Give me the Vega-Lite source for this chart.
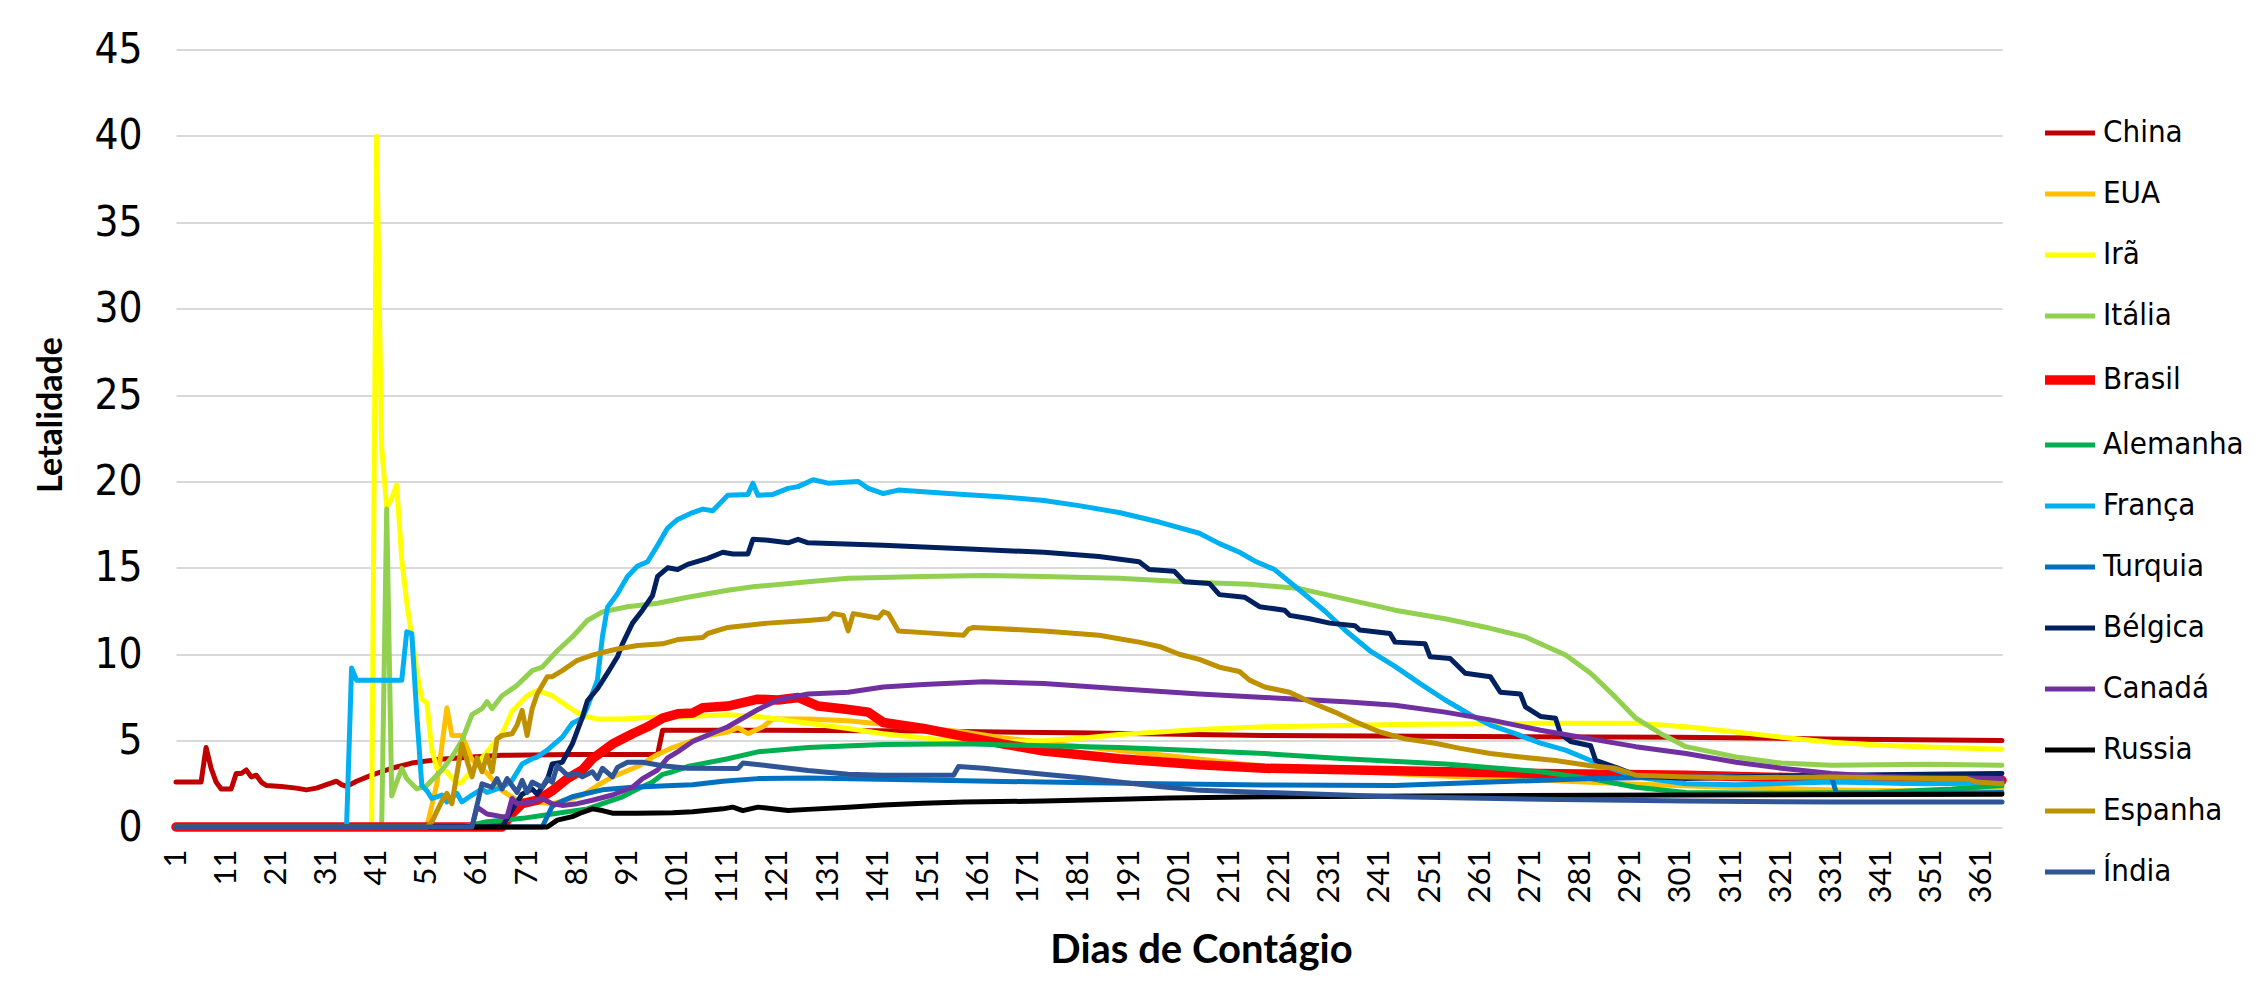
{
  "$schema": "https://vega.github.io/schema/vega-lite/v6.json",
  "width": 1826,
  "height": 777.5,
  "autosize": {"type": "none"},
  "padding": {"left": 176, "top": 49.5, "right": 264, "bottom": 167},
  "background": "white",
  "config": {
    "view": {"stroke": null},
    "font": "Lato",
    "axis": {"labelColor": "#000000", "titleColor": "#000000"}
  },
  "data": {"values": [
    {"c":"China","d":1,"v":2.6},{"c":"China","d":6,"v":2.6},{"c":"China","d":7,"v":4.6},{"c":"China","d":8,"v":3.4},{"c":"China","d":9,"v":2.6},{"c":"China","d":10,"v":2.2},{"c":"China","d":12,"v":2.2},{"c":"China","d":13,"v":3.1},{"c":"China","d":14,"v":3.1},{"c":"China","d":15,"v":3.3},{"c":"China","d":16,"v":2.9},{"c":"China","d":17,"v":3.0},{"c":"China","d":18,"v":2.6},{"c":"China","d":19,"v":2.4},{"c":"China","d":22,"v":2.35},{"c":"China","d":25,"v":2.25},{"c":"China","d":27,"v":2.15},{"c":"China","d":29,"v":2.25},{"c":"China","d":31,"v":2.45},{"c":"China","d":33,"v":2.65},{"c":"China","d":34,"v":2.45},{"c":"China","d":35,"v":2.35},{"c":"China","d":37,"v":2.65},{"c":"China","d":40,"v":3.0},{"c":"China","d":44,"v":3.4},{"c":"China","d":48,"v":3.7},{"c":"China","d":53,"v":3.9},{"c":"China","d":60,"v":4.05},{"c":"China","d":66,"v":4.15},{"c":"China","d":80,"v":4.2},{"c":"China","d":97,"v":4.2},{"c":"China","d":98,"v":5.6},{"c":"China","d":120,"v":5.6},{"c":"China","d":150,"v":5.55},{"c":"China","d":180,"v":5.45},{"c":"China","d":218,"v":5.3},{"c":"China","d":250,"v":5.25},{"c":"China","d":300,"v":5.2},{"c":"China","d":330,"v":5.1},{"c":"China","d":365,"v":5.0},
    {"c":"EUA","d":1,"v":0},{"c":"EUA","d":51,"v":0},{"c":"EUA","d":53,"v":2.5},{"c":"EUA","d":55,"v":6.9},{"c":"EUA","d":56,"v":5.3},{"c":"EUA","d":58,"v":5.3},{"c":"EUA","d":60,"v":3.9},{"c":"EUA","d":63,"v":3.1},{"c":"EUA","d":66,"v":2.1},{"c":"EUA","d":69,"v":1.55},{"c":"EUA","d":73,"v":1.45},{"c":"EUA","d":76,"v":1.35},{"c":"EUA","d":80,"v":1.65},{"c":"EUA","d":82,"v":1.85},{"c":"EUA","d":85,"v":2.4},{"c":"EUA","d":88,"v":2.9},{"c":"EUA","d":93,"v":3.5},{"c":"EUA","d":97,"v":4.2},{"c":"EUA","d":100,"v":4.6},{"c":"EUA","d":103,"v":4.9},{"c":"EUA","d":107,"v":5.3},{"c":"EUA","d":111,"v":5.5},{"c":"EUA","d":113,"v":5.75},{"c":"EUA","d":115,"v":5.4},{"c":"EUA","d":118,"v":5.8},{"c":"EUA","d":120,"v":6.25},{"c":"EUA","d":127,"v":6.25},{"c":"EUA","d":135,"v":6.15},{"c":"EUA","d":142,"v":5.95},{"c":"EUA","d":150,"v":5.75},{"c":"EUA","d":158,"v":5.5},{"c":"EUA","d":166,"v":5.15},{"c":"EUA","d":174,"v":4.9},{"c":"EUA","d":180,"v":4.7},{"c":"EUA","d":190,"v":4.4},{"c":"EUA","d":200,"v":4.1},{"c":"EUA","d":215,"v":3.6},{"c":"EUA","d":230,"v":3.3},{"c":"EUA","d":250,"v":3.0},{"c":"EUA","d":270,"v":2.75},{"c":"EUA","d":290,"v":2.5},{"c":"EUA","d":310,"v":2.3},{"c":"EUA","d":330,"v":2.15},{"c":"EUA","d":345,"v":2.1},{"c":"EUA","d":365,"v":2.2},
    {"c":"Irã","d":1,"v":0},{"c":"Irã","d":40,"v":0},{"c":"Irã","d":41,"v":40},{"c":"Irã","d":42,"v":22},{"c":"Irã","d":43,"v":18.5},{"c":"Irã","d":44,"v":19},{"c":"Irã","d":45,"v":19.8},{"c":"Irã","d":46,"v":15.5},{"c":"Irã","d":47,"v":13},{"c":"Irã","d":48,"v":11},{"c":"Irã","d":49,"v":9},{"c":"Irã","d":50,"v":7.4},{"c":"Irã","d":51,"v":7.2},{"c":"Irã","d":52,"v":4.5},{"c":"Irã","d":53,"v":3.4},{"c":"Irã","d":55,"v":3.2},{"c":"Irã","d":57,"v":2.5},{"c":"Irã","d":58,"v":2.6},{"c":"Irã","d":60,"v":3.3},{"c":"Irã","d":62,"v":4.0},{"c":"Irã","d":66,"v":5.4},{"c":"Irã","d":68,"v":6.7},{"c":"Irã","d":71,"v":7.6},{"c":"Irã","d":73,"v":7.9},{"c":"Irã","d":76,"v":7.6},{"c":"Irã","d":79,"v":7.0},{"c":"Irã","d":82,"v":6.45},{"c":"Irã","d":85,"v":6.25},{"c":"Irã","d":90,"v":6.25},{"c":"Irã","d":96,"v":6.35},{"c":"Irã","d":103,"v":6.4},{"c":"Irã","d":111,"v":6.5},{"c":"Irã","d":117,"v":6.4},{"c":"Irã","d":127,"v":6.0},{"c":"Irã","d":135,"v":5.7},{"c":"Irã","d":142,"v":5.4},{"c":"Irã","d":150,"v":5.15},{"c":"Irã","d":158,"v":4.95},{"c":"Irã","d":166,"v":4.93},{"c":"Irã","d":174,"v":5.0},{"c":"Irã","d":182,"v":5.15},{"c":"Irã","d":189,"v":5.35},{"c":"Irã","d":197,"v":5.5},{"c":"Irã","d":205,"v":5.65},{"c":"Irã","d":218,"v":5.8},{"c":"Irã","d":244,"v":5.93},{"c":"Irã","d":273,"v":6.0},{"c":"Irã","d":292,"v":6.0},{"c":"Irã","d":302,"v":5.8},{"c":"Irã","d":312,"v":5.5},{"c":"Irã","d":321,"v":5.2},{"c":"Irã","d":331,"v":4.9},{"c":"Irã","d":341,"v":4.73},{"c":"Irã","d":350,"v":4.63},{"c":"Irã","d":365,"v":4.5},
    {"c":"Itália","d":1,"v":0},{"c":"Itália","d":42,"v":0},{"c":"Itália","d":43,"v":18.4},{"c":"Itália","d":44,"v":1.8},{"c":"Itália","d":46,"v":3.4},{"c":"Itália","d":47,"v":2.8},{"c":"Itália","d":49,"v":2.2},{"c":"Itália","d":51,"v":2.4},{"c":"Itália","d":54,"v":3.3},{"c":"Itália","d":56,"v":4.05},{"c":"Itália","d":58,"v":5.0},{"c":"Itália","d":60,"v":6.5},{"c":"Itália","d":62,"v":6.85},{"c":"Itália","d":63,"v":7.25},{"c":"Itália","d":64,"v":6.85},{"c":"Itália","d":66,"v":7.6},{"c":"Itália","d":69,"v":8.2},{"c":"Itália","d":72,"v":9.05},{"c":"Itália","d":74,"v":9.25},{"c":"Itália","d":77,"v":10.2},{"c":"Itália","d":80,"v":11.0},{"c":"Itália","d":83,"v":11.95},{"c":"Itália","d":86,"v":12.45},{"c":"Itália","d":91,"v":12.75},{"c":"Itália","d":97,"v":12.95},{"c":"Itália","d":103,"v":13.3},{"c":"Itália","d":111,"v":13.7},{"c":"Itália","d":116,"v":13.9},{"c":"Itália","d":127,"v":14.2},{"c":"Itália","d":135,"v":14.4},{"c":"Itália","d":150,"v":14.5},{"c":"Itália","d":162,"v":14.55},{"c":"Itália","d":174,"v":14.5},{"c":"Itália","d":189,"v":14.4},{"c":"Itália","d":205,"v":14.15},{"c":"Itália","d":215,"v":14.05},{"c":"Itália","d":225,"v":13.8},{"c":"Itália","d":234,"v":13.2},{"c":"Itália","d":244,"v":12.55},{"c":"Itália","d":254,"v":12.05},{"c":"Itália","d":263,"v":11.5},{"c":"Itália","d":270,"v":11.0},{"c":"Itália","d":278,"v":9.95},{"c":"Itália","d":283,"v":8.9},{"c":"Itália","d":288,"v":7.5},{"c":"Itália","d":292,"v":6.3},{"c":"Itália","d":297,"v":5.4},{"c":"Itália","d":302,"v":4.65},{"c":"Itália","d":312,"v":4.05},{"c":"Itália","d":321,"v":3.7},{"c":"Itália","d":331,"v":3.57},{"c":"Itália","d":350,"v":3.63},{"c":"Itália","d":365,"v":3.57},
    {"c":"Brasil","d":1,"v":0},{"c":"Brasil","d":66,"v":0},{"c":"Brasil","d":68,"v":0.8},{"c":"Brasil","d":70,"v":1.35},{"c":"Brasil","d":73,"v":1.55},{"c":"Brasil","d":76,"v":2.1},{"c":"Brasil","d":79,"v":2.8},{"c":"Brasil","d":82,"v":3.3},{"c":"Brasil","d":84,"v":3.95},{"c":"Brasil","d":88,"v":4.8},{"c":"Brasil","d":92,"v":5.4},{"c":"Brasil","d":95,"v":5.8},{"c":"Brasil","d":98,"v":6.3},{"c":"Brasil","d":101,"v":6.55},{"c":"Brasil","d":104,"v":6.6},{"c":"Brasil","d":106,"v":6.9},{"c":"Brasil","d":111,"v":7.0},{"c":"Brasil","d":117,"v":7.4},{"c":"Brasil","d":121,"v":7.35},{"c":"Brasil","d":125,"v":7.5},{"c":"Brasil","d":129,"v":7.0},{"c":"Brasil","d":135,"v":6.8},{"c":"Brasil","d":139,"v":6.65},{"c":"Brasil","d":142,"v":6.05},{"c":"Brasil","d":150,"v":5.7},{"c":"Brasil","d":158,"v":5.25},{"c":"Brasil","d":166,"v":4.8},{"c":"Brasil","d":174,"v":4.4},{"c":"Brasil","d":189,"v":3.95},{"c":"Brasil","d":205,"v":3.6},{"c":"Brasil","d":218,"v":3.4},{"c":"Brasil","d":244,"v":3.25},{"c":"Brasil","d":273,"v":3.1},{"c":"Brasil","d":302,"v":3.0},{"c":"Brasil","d":331,"v":2.8},{"c":"Brasil","d":350,"v":2.65},{"c":"Brasil","d":365,"v":2.7},
    {"c":"Alemanha","d":1,"v":0},{"c":"Alemanha","d":58,"v":0},{"c":"Alemanha","d":63,"v":0.3},{"c":"Alemanha","d":70,"v":0.5},{"c":"Alemanha","d":76,"v":0.75},{"c":"Alemanha","d":83,"v":1.05},{"c":"Alemanha","d":86,"v":1.35},{"c":"Alemanha","d":90,"v":1.75},{"c":"Alemanha","d":93,"v":2.2},{"c":"Alemanha","d":96,"v":2.6},{"c":"Alemanha","d":98,"v":3.05},{"c":"Alemanha","d":100,"v":3.2},{"c":"Alemanha","d":103,"v":3.5},{"c":"Alemanha","d":111,"v":3.95},{"c":"Alemanha","d":117,"v":4.35},{"c":"Alemanha","d":127,"v":4.6},{"c":"Alemanha","d":142,"v":4.78},{"c":"Alemanha","d":158,"v":4.82},{"c":"Alemanha","d":174,"v":4.7},{"c":"Alemanha","d":189,"v":4.6},{"c":"Alemanha","d":205,"v":4.42},{"c":"Alemanha","d":218,"v":4.25},{"c":"Alemanha","d":234,"v":3.95},{"c":"Alemanha","d":254,"v":3.65},{"c":"Alemanha","d":273,"v":3.2},{"c":"Alemanha","d":283,"v":2.8},{"c":"Alemanha","d":292,"v":2.3},{"c":"Alemanha","d":302,"v":2.0},{"c":"Alemanha","d":320,"v":1.95},{"c":"Alemanha","d":340,"v":2.0},{"c":"Alemanha","d":355,"v":2.2},{"c":"Alemanha","d":365,"v":2.4},
    {"c":"França","d":1,"v":0},{"c":"França","d":35,"v":0},{"c":"França","d":36,"v":9.2},{"c":"França","d":37,"v":8.5},{"c":"França","d":46,"v":8.5},{"c":"França","d":47,"v":11.3},{"c":"França","d":48,"v":11.2},{"c":"França","d":49,"v":6.5},{"c":"França","d":50,"v":2.4},{"c":"França","d":51,"v":2.1},{"c":"França","d":52,"v":1.65},{"c":"França","d":54,"v":1.85},{"c":"França","d":55,"v":1.45},{"c":"França","d":57,"v":1.95},{"c":"França","d":58,"v":1.45},{"c":"França","d":60,"v":1.85},{"c":"França","d":62,"v":2.2},{"c":"França","d":63,"v":2.0},{"c":"França","d":66,"v":2.3},{"c":"França","d":68,"v":2.7},{"c":"França","d":70,"v":3.65},{"c":"França","d":72,"v":3.95},{"c":"França","d":73,"v":4.05},{"c":"França","d":75,"v":4.45},{"c":"França","d":78,"v":5.2},{"c":"França","d":80,"v":6.0},{"c":"França","d":82,"v":6.3},{"c":"França","d":83,"v":6.95},{"c":"França","d":85,"v":8.5},{"c":"França","d":86,"v":11.0},{"c":"França","d":87,"v":12.7},{"c":"França","d":89,"v":13.5},{"c":"França","d":91,"v":14.5},{"c":"França","d":93,"v":15.1},{"c":"França","d":95,"v":15.35},{"c":"França","d":97,"v":16.3},{"c":"França","d":99,"v":17.3},{"c":"França","d":101,"v":17.8},{"c":"França","d":104,"v":18.2},{"c":"França","d":106,"v":18.4},{"c":"França","d":108,"v":18.3},{"c":"França","d":111,"v":19.2},{"c":"França","d":115,"v":19.25},{"c":"França","d":116,"v":19.9},{"c":"França","d":117,"v":19.2},{"c":"França","d":120,"v":19.25},{"c":"França","d":123,"v":19.6},{"c":"França","d":125,"v":19.7},{"c":"França","d":128,"v":20.1},{"c":"França","d":131,"v":19.9},{"c":"França","d":137,"v":20.0},{"c":"França","d":139,"v":19.6},{"c":"França","d":142,"v":19.3},{"c":"França","d":145,"v":19.5},{"c":"França","d":150,"v":19.4},{"c":"França","d":158,"v":19.25},{"c":"França","d":166,"v":19.1},{"c":"França","d":174,"v":18.9},{"c":"França","d":181,"v":18.6},{"c":"França","d":189,"v":18.2},{"c":"França","d":197,"v":17.65},{"c":"França","d":205,"v":17.0},{"c":"França","d":209,"v":16.4},{"c":"França","d":213,"v":15.9},{"c":"França","d":216,"v":15.4},{"c":"França","d":220,"v":14.9},{"c":"França","d":225,"v":13.7},{"c":"França","d":230,"v":12.5},{"c":"França","d":234,"v":11.4},{"c":"França","d":239,"v":10.2},{"c":"França","d":244,"v":9.3},{"c":"França","d":249,"v":8.3},{"c":"França","d":254,"v":7.35},{"c":"França","d":259,"v":6.5},{"c":"França","d":263,"v":5.9},{"c":"França","d":268,"v":5.4},{"c":"França","d":273,"v":4.85},{"c":"França","d":278,"v":4.45},{"c":"França","d":283,"v":3.85},{"c":"França","d":288,"v":3.3},{"c":"França","d":292,"v":2.9},{"c":"França","d":302,"v":2.5},{"c":"França","d":312,"v":2.45},{"c":"França","d":331,"v":2.6},{"c":"França","d":350,"v":2.5},{"c":"França","d":365,"v":2.6},
    {"c":"Turquia","d":1,"v":0},{"c":"Turquia","d":74,"v":0},{"c":"Turquia","d":76,"v":1.2},{"c":"Turquia","d":78,"v":1.5},{"c":"Turquia","d":80,"v":1.75},{"c":"Turquia","d":83,"v":1.95},{"c":"Turquia","d":86,"v":2.15},{"c":"Turquia","d":92,"v":2.3},{"c":"Turquia","d":100,"v":2.4},{"c":"Turquia","d":104,"v":2.45},{"c":"Turquia","d":110,"v":2.65},{"c":"Turquia","d":117,"v":2.8},{"c":"Turquia","d":127,"v":2.83},{"c":"Turquia","d":150,"v":2.72},{"c":"Turquia","d":174,"v":2.6},{"c":"Turquia","d":197,"v":2.5},{"c":"Turquia","d":218,"v":2.43},{"c":"Turquia","d":244,"v":2.4},{"c":"Turquia","d":263,"v":2.6},{"c":"Turquia","d":283,"v":2.8},{"c":"Turquia","d":302,"v":2.9},{"c":"Turquia","d":321,"v":2.93},{"c":"Turquia","d":331,"v":2.9},{"c":"Turquia","d":332,"v":1.95},{"c":"Turquia","d":350,"v":1.95},{"c":"Turquia","d":365,"v":2.0},
    {"c":"Bélgica","d":1,"v":0},{"c":"Bélgica","d":66,"v":0},{"c":"Bélgica","d":68,"v":1.0},{"c":"Bélgica","d":70,"v":1.9},{"c":"Bélgica","d":72,"v":2.2},{"c":"Bélgica","d":73,"v":1.9},{"c":"Bélgica","d":75,"v":2.7},{"c":"Bélgica","d":76,"v":3.65},{"c":"Bélgica","d":78,"v":3.75},{"c":"Bélgica","d":80,"v":4.8},{"c":"Bélgica","d":82,"v":6.35},{"c":"Bélgica","d":83,"v":7.3},{"c":"Bélgica","d":85,"v":8.0},{"c":"Bélgica","d":87,"v":8.9},{"c":"Bélgica","d":89,"v":9.85},{"c":"Bélgica","d":90,"v":10.6},{"c":"Bélgica","d":92,"v":11.8},{"c":"Bélgica","d":94,"v":12.55},{"c":"Bélgica","d":96,"v":13.4},{"c":"Bélgica","d":97,"v":14.5},{"c":"Bélgica","d":99,"v":15.0},{"c":"Bélgica","d":101,"v":14.9},{"c":"Bélgica","d":103,"v":15.2},{"c":"Bélgica","d":107,"v":15.55},{"c":"Bélgica","d":110,"v":15.9},{"c":"Bélgica","d":112,"v":15.8},{"c":"Bélgica","d":115,"v":15.8},{"c":"Bélgica","d":116,"v":16.65},{"c":"Bélgica","d":119,"v":16.6},{"c":"Bélgica","d":123,"v":16.45},{"c":"Bélgica","d":125,"v":16.65},{"c":"Bélgica","d":127,"v":16.45},{"c":"Bélgica","d":142,"v":16.3},{"c":"Bélgica","d":158,"v":16.1},{"c":"Bélgica","d":174,"v":15.9},{"c":"Bélgica","d":185,"v":15.65},{"c":"Bélgica","d":193,"v":15.35},{"c":"Bélgica","d":195,"v":14.9},{"c":"Bélgica","d":200,"v":14.8},{"c":"Bélgica","d":202,"v":14.2},{"c":"Bélgica","d":207,"v":14.1},{"c":"Bélgica","d":209,"v":13.45},{"c":"Bélgica","d":214,"v":13.3},{"c":"Bélgica","d":217,"v":12.75},{"c":"Bélgica","d":222,"v":12.55},{"c":"Bélgica","d":223,"v":12.25},{"c":"Bélgica","d":227,"v":12.05},{"c":"Bélgica","d":231,"v":11.8},{"c":"Bélgica","d":236,"v":11.65},{"c":"Bélgica","d":237,"v":11.4},{"c":"Bélgica","d":243,"v":11.2},{"c":"Bélgica","d":244,"v":10.7},{"c":"Bélgica","d":250,"v":10.6},{"c":"Bélgica","d":251,"v":9.85},{"c":"Bélgica","d":255,"v":9.75},{"c":"Bélgica","d":258,"v":8.9},{"c":"Bélgica","d":263,"v":8.7},{"c":"Bélgica","d":265,"v":7.8},{"c":"Bélgica","d":269,"v":7.7},{"c":"Bélgica","d":270,"v":6.95},{"c":"Bélgica","d":273,"v":6.4},{"c":"Bélgica","d":276,"v":6.3},{"c":"Bélgica","d":277,"v":5.4},{"c":"Bélgica","d":279,"v":4.95},{"c":"Bélgica","d":283,"v":4.7},{"c":"Bélgica","d":284,"v":3.85},{"c":"Bélgica","d":288,"v":3.45},{"c":"Bélgica","d":292,"v":3.0},{"c":"Bélgica","d":302,"v":2.8},{"c":"Bélgica","d":312,"v":2.9},{"c":"Bélgica","d":331,"v":3.0},{"c":"Bélgica","d":350,"v":3.05},{"c":"Bélgica","d":365,"v":3.1},
    {"c":"Canadá","d":1,"v":0},{"c":"Canadá","d":60,"v":0},{"c":"Canadá","d":61,"v":1.15},{"c":"Canadá","d":63,"v":0.75},{"c":"Canadá","d":66,"v":0.6},{"c":"Canadá","d":67,"v":0.6},{"c":"Canadá","d":68,"v":1.65},{"c":"Canadá","d":69,"v":1.35},{"c":"Canadá","d":72,"v":1.45},{"c":"Canadá","d":74,"v":1.65},{"c":"Canadá","d":76,"v":1.35},{"c":"Canadá","d":78,"v":1.25},{"c":"Canadá","d":81,"v":1.35},{"c":"Canadá","d":84,"v":1.55},{"c":"Canadá","d":88,"v":1.85},{"c":"Canadá","d":92,"v":2.3},{"c":"Canadá","d":94,"v":2.8},{"c":"Canadá","d":97,"v":3.3},{"c":"Canadá","d":99,"v":4.0},{"c":"Canadá","d":101,"v":4.35},{"c":"Canadá","d":104,"v":4.95},{"c":"Canadá","d":111,"v":5.8},{"c":"Canadá","d":117,"v":6.8},{"c":"Canadá","d":121,"v":7.35},{"c":"Canadá","d":127,"v":7.7},{"c":"Canadá","d":135,"v":7.8},{"c":"Canadá","d":142,"v":8.1},{"c":"Canadá","d":150,"v":8.25},{"c":"Canadá","d":162,"v":8.4},{"c":"Canadá","d":174,"v":8.3},{"c":"Canadá","d":189,"v":8.0},{"c":"Canadá","d":205,"v":7.7},{"c":"Canadá","d":218,"v":7.5},{"c":"Canadá","d":234,"v":7.25},{"c":"Canadá","d":244,"v":7.05},{"c":"Canadá","d":254,"v":6.65},{"c":"Canadá","d":263,"v":6.2},{"c":"Canadá","d":273,"v":5.6},{"c":"Canadá","d":283,"v":5.1},{"c":"Canadá","d":292,"v":4.65},{"c":"Canadá","d":302,"v":4.25},{"c":"Canadá","d":312,"v":3.75},{"c":"Canadá","d":321,"v":3.4},{"c":"Canadá","d":331,"v":3.1},{"c":"Canadá","d":341,"v":2.93},{"c":"Canadá","d":350,"v":2.86},{"c":"Canadá","d":365,"v":2.8},
    {"c":"Russia","d":1,"v":0},{"c":"Russia","d":75,"v":0},{"c":"Russia","d":77,"v":0.4},{"c":"Russia","d":80,"v":0.6},{"c":"Russia","d":82,"v":0.85},{"c":"Russia","d":84,"v":1.05},{"c":"Russia","d":86,"v":0.95},{"c":"Russia","d":88,"v":0.8},{"c":"Russia","d":93,"v":0.8},{"c":"Russia","d":100,"v":0.82},{"c":"Russia","d":104,"v":0.88},{"c":"Russia","d":110,"v":1.05},{"c":"Russia","d":112,"v":1.15},{"c":"Russia","d":114,"v":0.95},{"c":"Russia","d":117,"v":1.15},{"c":"Russia","d":123,"v":0.95},{"c":"Russia","d":127,"v":1.02},{"c":"Russia","d":135,"v":1.15},{"c":"Russia","d":142,"v":1.28},{"c":"Russia","d":150,"v":1.38},{"c":"Russia","d":158,"v":1.45},{"c":"Russia","d":174,"v":1.5},{"c":"Russia","d":189,"v":1.6},{"c":"Russia","d":199,"v":1.68},{"c":"Russia","d":218,"v":1.75},{"c":"Russia","d":250,"v":1.8},{"c":"Russia","d":300,"v":1.85},{"c":"Russia","d":365,"v":1.9},
    {"c":"Espanha","d":1,"v":0},{"c":"Espanha","d":51,"v":0},{"c":"Espanha","d":52,"v":0.3},{"c":"Espanha","d":53,"v":0.9},{"c":"Espanha","d":54,"v":1.5},{"c":"Espanha","d":55,"v":1.95},{"c":"Espanha","d":56,"v":1.35},{"c":"Espanha","d":58,"v":4.8},{"c":"Espanha","d":60,"v":2.9},{"c":"Espanha","d":61,"v":4.0},{"c":"Espanha","d":62,"v":3.2},{"c":"Espanha","d":63,"v":4.15},{"c":"Espanha","d":64,"v":3.2},{"c":"Espanha","d":65,"v":5.1},{"c":"Espanha","d":66,"v":5.3},{"c":"Espanha","d":68,"v":5.4},{"c":"Espanha","d":69,"v":5.9},{"c":"Espanha","d":70,"v":6.75},{"c":"Espanha","d":71,"v":5.3},{"c":"Espanha","d":72,"v":6.85},{"c":"Espanha","d":73,"v":7.7},{"c":"Espanha","d":75,"v":8.7},{"c":"Espanha","d":76,"v":8.7},{"c":"Espanha","d":78,"v":9.05},{"c":"Espanha","d":81,"v":9.65},{"c":"Espanha","d":84,"v":9.95},{"c":"Espanha","d":86,"v":10.1},{"c":"Espanha","d":89,"v":10.3},{"c":"Espanha","d":93,"v":10.5},{"c":"Espanha","d":98,"v":10.6},{"c":"Espanha","d":101,"v":10.85},{"c":"Espanha","d":106,"v":10.97},{"c":"Espanha","d":107,"v":11.2},{"c":"Espanha","d":111,"v":11.55},{"c":"Espanha","d":119,"v":11.8},{"c":"Espanha","d":127,"v":11.95},{"c":"Espanha","d":131,"v":12.05},{"c":"Espanha","d":132,"v":12.35},{"c":"Espanha","d":134,"v":12.25},{"c":"Espanha","d":135,"v":11.35},{"c":"Espanha","d":136,"v":12.35},{"c":"Espanha","d":141,"v":12.1},{"c":"Espanha","d":142,"v":12.45},{"c":"Espanha","d":143,"v":12.35},{"c":"Espanha","d":145,"v":11.35},{"c":"Espanha","d":150,"v":11.25},{"c":"Espanha","d":158,"v":11.1},{"c":"Espanha","d":159,"v":11.45},{"c":"Espanha","d":160,"v":11.55},{"c":"Espanha","d":174,"v":11.35},{"c":"Espanha","d":185,"v":11.1},{"c":"Espanha","d":189,"v":10.9},{"c":"Espanha","d":193,"v":10.7},{"c":"Espanha","d":197,"v":10.45},{"c":"Espanha","d":201,"v":10.0},{"c":"Espanha","d":205,"v":9.7},{"c":"Espanha","d":209,"v":9.25},{"c":"Espanha","d":213,"v":9.0},{"c":"Espanha","d":215,"v":8.5},{"c":"Espanha","d":218,"v":8.1},{"c":"Espanha","d":223,"v":7.8},{"c":"Espanha","d":227,"v":7.25},{"c":"Espanha","d":232,"v":6.65},{"c":"Espanha","d":236,"v":6.1},{"c":"Espanha","d":241,"v":5.5},{"c":"Espanha","d":246,"v":5.1},{"c":"Espanha","d":252,"v":4.85},{"c":"Espanha","d":257,"v":4.55},{"c":"Espanha","d":263,"v":4.25},{"c":"Espanha","d":269,"v":4.05},{"c":"Espanha","d":276,"v":3.85},{"c":"Espanha","d":283,"v":3.55},{"c":"Espanha","d":288,"v":3.4},{"c":"Espanha","d":292,"v":3.0},{"c":"Espanha","d":302,"v":2.9},{"c":"Espanha","d":312,"v":2.85},{"c":"Espanha","d":331,"v":2.9},{"c":"Espanha","d":350,"v":2.8},{"c":"Espanha","d":358,"v":2.8},{"c":"Espanha","d":360,"v":2.6},{"c":"Espanha","d":365,"v":2.5},
    {"c":"Índia","d":1,"v":0},{"c":"Índia","d":60,"v":0},{"c":"Índia","d":62,"v":2.5},{"c":"Índia","d":64,"v":2.3},{"c":"Índia","d":65,"v":2.8},{"c":"Índia","d":66,"v":2.2},{"c":"Índia","d":67,"v":2.8},{"c":"Índia","d":69,"v":2.0},{"c":"Índia","d":70,"v":2.7},{"c":"Índia","d":71,"v":2.0},{"c":"Índia","d":72,"v":2.6},{"c":"Índia","d":74,"v":2.3},{"c":"Índia","d":75,"v":2.8},{"c":"Índia","d":76,"v":2.6},{"c":"Índia","d":77,"v":3.55},{"c":"Índia","d":79,"v":3.0},{"c":"Índia","d":81,"v":3.1},{"c":"Índia","d":82,"v":2.9},{"c":"Índia","d":84,"v":3.2},{"c":"Índia","d":85,"v":2.8},{"c":"Índia","d":86,"v":3.4},{"c":"Índia","d":88,"v":2.9},{"c":"Índia","d":89,"v":3.45},{"c":"Índia","d":91,"v":3.75},{"c":"Índia","d":94,"v":3.75},{"c":"Índia","d":98,"v":3.55},{"c":"Índia","d":103,"v":3.4},{"c":"Índia","d":113,"v":3.38},{"c":"Índia","d":114,"v":3.7},{"c":"Índia","d":119,"v":3.55},{"c":"Índia","d":127,"v":3.27},{"c":"Índia","d":135,"v":3.05},{"c":"Índia","d":142,"v":3.0},{"c":"Índia","d":156,"v":3.0},{"c":"Índia","d":157,"v":3.5},{"c":"Índia","d":162,"v":3.4},{"c":"Índia","d":174,"v":3.05},{"c":"Índia","d":182,"v":2.83},{"c":"Índia","d":189,"v":2.6},{"c":"Índia","d":197,"v":2.35},{"c":"Índia","d":205,"v":2.12},{"c":"Índia","d":218,"v":2.0},{"c":"Índia","d":244,"v":1.75},{"c":"Índia","d":273,"v":1.6},{"c":"Índia","d":302,"v":1.5},{"c":"Índia","d":331,"v":1.45},{"c":"Índia","d":365,"v":1.45}
  ]},
  "mark": {"type": "line", "strokeJoin": "round", "strokeCap": "round", "clip": false},
  "encoding": {
    "x": {
      "field": "d", "type": "quantitative",
      "scale": {"domain": [1, 365], "nice": false, "zero": false},
      "axis": {
        "values": [1,11,21,31,41,51,61,71,81,91,101,111,121,131,141,151,161,171,181,191,201,211,221,231,241,251,261,271,281,291,301,311,321,331,341,351,361],
        "labelAngle": -90, "labelFont": "Lato", "labelFontSize": 31, "labelPadding": 22, "ticks": false, "domain": false, "grid": false,
        "title": "Dias de Contágio", "titleFont": "Lato", "titleFontSize": 40, "titleFontWeight": "bold", "titlePadding": 28, "titleX": 1025, "labelFlush": false, "labelOverlap": false
      }
    },
    "y": {
      "field": "v", "type": "quantitative",
      "scale": {"domain": [0, 45], "nice": false},
      "axis": {
        "values": [0,5,10,15,20,25,30,35,40,45],
        "labelFont": "Liberation Sans Narrow, Arial Narrow, DejaVu Sans Condensed, Lato", "labelFontSize": 42, "labelPadding": 34, "ticks": false, "domain": false,
        "grid": true, "gridColor": "#D9D9D9", "gridWidth": 2,
        "title": "Letalidade", "titleFont": "Lato", "titleFontSize": 34, "titleFontWeight": "bold", "titlePadding": 25, "titleY": 365, "labelFlush": false
      }
    },
    "color": {
      "field": "c", "type": "nominal",
      "scale": {
        "domain": ["China","EUA","Irã","Itália","Brasil","Alemanha","França","Turquia","Bélgica","Canadá","Russia","Espanha","Índia"],
        "range": ["#C00000","#FFC000","#FFFF00","#92D050","#FF0000","#00B050","#00B0F0","#0070C0","#002060","#7030A0","#000000","#BF9000","#2F5597"]
      },
      "legend": {
        "title": null, "orient": "none", "legendX": 1869, "legendY": 68,
        "symbolType": "stroke", "symbolSize": 2500, "symbolStrokeWidth": 5,
        "labelFontSize": 31, "labelFont": "Liberation Sans Narrow, Arial Narrow, DejaVu Sans Condensed, Lato", "labelColor": "#000000", "labelOffset": 8, "rowPadding": 29, "padding": 0,
        "encode": {
          "symbols": {"update": {"strokeWidth": {"signal": "datum.label === 'Brasil' ? 9.5 : 5"}, "x": {"value": 25}}},
          "labels": {"update": {"x": {"value": 58}}}
        }
      }
    },
    "strokeWidth": {"condition": {"test": "datum.c === 'Brasil'", "value": 9.5}, "value": 5}
  }
}
